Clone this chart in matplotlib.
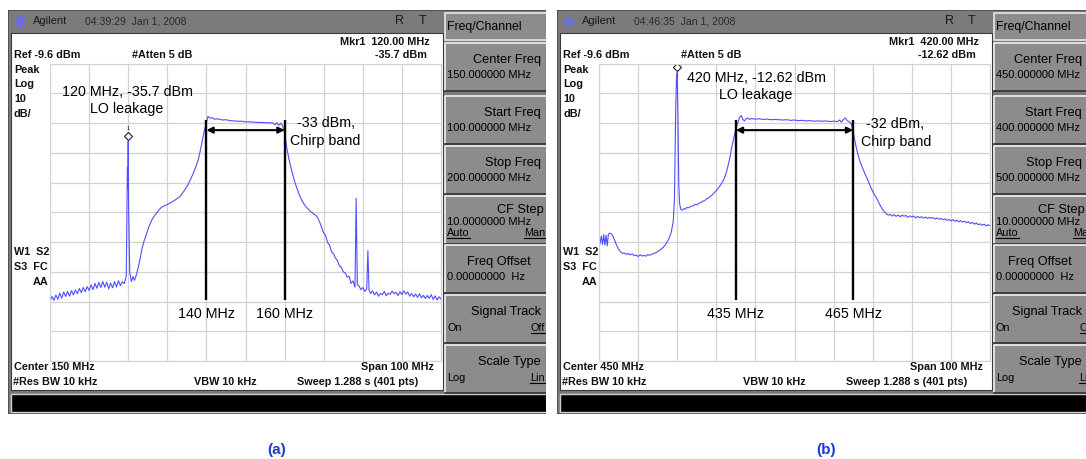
import numpy as np
import matplotlib
matplotlib.use('Agg')
import matplotlib.pyplot as plt
from matplotlib.patches import Rectangle
from matplotlib.transforms import ScaledTranslation

plt.rcParams['font.family'] = ['Liberation Sans', 'DejaVu Sans']

W, H = 1086, 459

ref_level = -9.6          # dBm, top line
db_div = 10

span_a = (100, 200)
span_b = (400, 500)

freq_a = [100.0, 100.5, 101.0, 101.5, 102.0, 102.5, 103.0, 103.5, 104.0, 104.5,
          105.0, 105.5, 106.0, 106.5, 107.0, 107.5, 108.0, 108.5, 109.0, 109.5,
          110.0, 110.5, 111.0, 111.5, 112.0, 112.5, 113.0, 113.5, 114.0, 114.5,
          115.0, 115.5, 116.0, 116.5, 117.0, 117.5, 118.0, 118.5, 119.0, 119.5,
          119.7, 119.8, 119.9, 120.0, 120.1, 120.4, 120.8, 121.2, 121.6, 122.0,
          122.5, 123.0, 123.5, 124.0, 124.5, 125.0, 125.5, 126.0, 126.5, 127.0,
          127.5, 128.0, 128.5, 129.0, 129.5, 130.0, 130.5, 131.0, 131.5, 132.0,
          132.5, 133.0, 133.5, 134.0, 134.5, 135.0, 135.5, 136.0, 136.5, 137.0,
          137.5, 138.0, 138.5, 139.0, 139.5, 140.0, 140.4, 141.0, 141.5, 142.0,
          143.0, 144.0, 145.0, 146.0, 147.0, 148.0, 149.0, 150.0, 151.0, 152.0,
          153.0, 154.0, 155.0, 156.0, 157.0, 157.5, 158.0, 158.5, 159.0, 159.5,
          160.0, 160.5, 161.0, 161.5, 162.0, 162.5, 163.0, 163.5, 164.0, 164.5,
          165.0, 165.5, 166.0, 166.5, 167.0, 167.5, 168.0, 168.5, 169.0, 169.5,
          170.0, 170.5, 171.0, 171.5, 172.0, 172.5, 173.0, 173.5, 174.0, 174.5,
          175.0, 175.5, 176.0, 176.5, 177.0, 177.5, 178.0, 178.3, 178.6, 179.0,
          179.5, 180.0, 180.5, 181.0, 181.3, 181.6, 182.0, 182.5, 183.0, 183.5,
          184.0, 184.5, 185.0, 185.5, 186.0, 186.5, 187.0, 187.5, 188.0, 188.5,
          189.0, 189.5, 190.0, 190.5, 191.0, 191.5, 192.0, 192.5, 193.0, 193.5,
          194.0, 194.5, 195.0, 195.5, 196.0, 196.5, 197.0, 197.5, 198.0, 198.5,
          199.0, 199.5, 200.0]
dbm_a = [-89.6, -87.9, -89.2, -87.4, -88.9, -86.8, -88.5, -86.4, -87.9, -86.2,
         -87.8, -85.9, -87.4, -85.7, -87.0, -85.2, -86.6, -84.9, -86.3, -84.6,
         -85.9, -84.0, -85.6, -83.5, -85.2, -83.2, -84.9, -82.9, -84.8, -83.1,
         -85.3, -83.4, -85.0, -82.9, -84.7, -82.6, -84.3, -83.0, -83.6, -81.0,
         -56.0, -44.5, -52.0, -35.7, -58.0, -79.8, -82.9, -81.2, -82.5, -81.0,
         -78.5, -75.5, -72.0, -69.5, -67.5, -65.6, -63.8, -62.3, -61.2, -60.3,
         -59.4, -58.6, -58.0, -57.6, -57.3, -57.0, -56.6, -56.3, -55.9, -55.5,
         -55.0, -54.6, -53.9, -53.0, -52.0, -51.0, -49.8, -48.4, -46.9, -45.3,
         -43.6, -41.5, -38.5, -35.2, -32.0, -29.5, -27.4, -28.0, -27.8, -28.3,
         -28.2, -28.6, -28.5, -28.8, -28.9, -29.0, -29.0, -29.2, -29.2, -29.3,
         -29.4, -29.4, -29.5, -29.5, -29.6, -30.2, -29.5, -30.4, -29.7, -30.5,
         -33.0, -37.5, -41.0, -44.0, -46.5, -49.0, -51.0, -52.8, -54.5, -55.8,
         -56.9, -57.8, -58.5, -59.2, -59.7, -60.3, -60.6, -61.5, -63.0, -64.8,
         -66.6, -67.5, -69.8, -70.6, -72.9, -73.5, -75.0, -75.8, -77.6, -78.1,
         -79.6, -80.0, -81.4, -81.1, -83.5, -82.7, -84.8, -54.9, -84.0, -84.3,
         -85.6, -84.9, -86.2, -85.4, -72.5, -85.8, -86.9, -86.0, -87.4, -86.4,
         -87.8, -86.9, -87.3, -86.2, -87.7, -86.8, -87.2, -86.1, -87.0, -86.5,
         -87.6, -86.3, -87.3, -86.0, -87.1, -86.4, -87.8, -86.9, -88.0, -87.1,
         -88.2, -87.0, -88.4, -87.5, -88.6, -87.6, -88.5, -87.3, -88.9, -87.7,
         -89.1, -88.0, -88.8]

freq_b = [400.0, 400.3, 400.6, 400.9, 401.2, 401.5, 401.8, 402.1, 402.4, 402.8,
          403.2, 403.6, 404.0, 404.5, 405.0, 405.5, 406.0, 406.5, 407.0, 407.5,
          408.0, 408.5, 409.0, 409.5, 410.0, 410.5, 411.0, 411.5, 412.0, 412.5,
          413.0, 413.5, 414.0, 414.5, 415.0, 415.5, 416.0, 416.5, 417.0, 417.5,
          418.0, 418.5, 419.0, 419.3, 419.6, 419.8, 420.0, 420.2, 420.4, 420.6,
          420.9, 421.3, 421.7, 422.0, 422.5, 423.0, 423.5, 424.0, 424.5, 425.0,
          425.5, 426.0, 426.5, 427.0, 427.5, 428.0, 428.5, 429.0, 429.5, 430.0,
          430.5, 431.0, 431.5, 432.0, 432.5, 433.0, 433.5, 434.0, 434.5, 435.0,
          435.5, 436.0, 436.4, 436.8, 437.2, 437.6, 438.0, 438.5, 439.0, 440.0,
          441.0, 442.0, 443.0, 444.0, 445.0, 446.0, 447.0, 448.0, 449.0, 450.0,
          451.0, 452.0, 453.0, 454.0, 455.0, 456.0, 457.0, 458.0, 459.0, 460.0,
          461.0, 461.5, 462.0, 462.5, 463.0, 463.5, 464.0, 464.5, 465.0, 465.5,
          466.0, 466.5, 467.0, 467.5, 468.0, 468.5, 469.0, 469.5, 470.0, 470.5,
          471.0, 471.5, 472.0, 472.5, 473.0, 473.5, 474.0, 474.5, 475.0, 475.5,
          476.0, 476.5, 477.0, 477.5, 478.0, 478.5, 479.0, 479.5, 480.0, 480.5,
          481.0, 481.5, 482.0, 482.5, 483.0, 483.5, 484.0, 484.5, 485.0, 485.5,
          486.0, 486.5, 487.0, 487.5, 488.0, 488.5, 489.0, 489.5, 490.0, 490.5,
          491.0, 491.5, 492.0, 492.5, 493.0, 493.5, 494.0, 494.5, 495.0, 495.5,
          496.0, 496.5, 497.0, 497.5, 498.0, 498.5, 499.0, 499.5, 500.0]
dbm_b = [-71.3, -69.8, -67.6, -70.4, -67.1, -70.6, -67.3, -70.9, -67.0, -66.6,
         -66.9, -67.8, -69.0, -70.7, -72.0, -72.9, -73.4, -73.3, -73.7, -73.5,
         -73.9, -73.6, -74.2, -74.0, -74.5, -73.9, -74.3, -74.1, -74.4, -73.8,
         -74.1, -73.7, -73.5, -73.2, -72.8, -72.4, -71.9, -71.3, -70.5, -69.4,
         -68.1, -66.2, -62.5, -55.0, -26.0, -15.0, -12.62, -28.0, -50.0, -56.5,
         -58.6, -58.9, -58.4, -58.6, -58.0, -58.1, -57.6, -57.5, -57.0, -57.1,
         -56.6, -56.4, -55.9, -55.7, -55.1, -54.8, -54.2, -53.7, -53.0, -52.3,
         -51.5, -50.6, -49.6, -48.3, -46.5, -44.0, -41.0, -37.5, -34.5, -31.5,
         -29.5, -27.6, -27.1, -28.4, -28.9, -28.2, -27.9, -28.4, -28.1, -28.3,
         -28.2, -28.4, -28.3, -28.5, -28.4, -28.5, -28.6, -28.5, -28.7, -28.6,
         -28.8, -28.7, -28.9, -28.8, -29.0, -28.9, -29.0, -28.9, -29.1, -29.0,
         -29.1, -28.6, -29.3, -28.4, -27.9, -28.8, -29.2, -29.8, -32.5, -36.0,
         -39.0, -41.5, -43.4, -45.0, -46.6, -48.0, -49.6, -51.2, -52.6, -53.8,
         -54.9, -56.2, -57.5, -58.6, -59.5, -60.1, -60.6, -60.3, -60.9, -60.4,
         -61.0, -60.5, -61.1, -60.6, -60.9, -60.7, -61.3, -60.8, -61.2, -60.9,
         -61.5, -61.0, -61.4, -61.1, -61.6, -61.2, -61.7, -61.3, -61.6, -61.4,
         -61.9, -61.5, -62.0, -61.7, -62.1, -61.8, -62.3, -62.0, -62.5, -62.1,
         -62.6, -62.3, -62.8, -62.4, -62.9, -62.6, -63.1, -62.8, -63.4, -63.0,
         -63.6, -63.2, -63.8, -63.5, -64.0, -63.6, -64.2, -63.8, -64.1]

mkr_a = (120.0, -35.7)
mkr_b = (420.0, -12.62)
band_a = (140, 160)
band_b = (435, 465)
chirp_a = -33
chirp_b = -32

key_titles = ['Center Freq', 'Start Freq', 'Stop Freq', 'CF Step',
              'Freq Offset', 'Signal Track', 'Scale Type']
key_vals_a = ['150.000000 MHz', '100.000000 MHz', '200.000000 MHz',
              '10.0000000 MHz', '0.00000000  Hz', '', '']
key_vals_b = ['450.000000 MHz', '400.000000 MHz', '500.000000 MHz',
              '10.0000000 MHz', '0.00000000  Hz', '', '']

fig = plt.figure(figsize=(W / 100, H / 100), dpi=100)
fig.patch.set_facecolor('white')

underlined = []
FRAME = '#7b7b7b'
BTN = '#8c8c8c'
TXT = '#111111'


def txt(ax, x, y, s, **kw):
    kw.setdefault('va', 'center')
    kw.setdefault('color', TXT)
    return ax.text(x, y, s, clip_on=True, **kw)


def draw_screen(x0, x1, time_s, mkr_s, mkr_v, center_s, key_vals, key_right):
    ox = x0 - 8
    bg = fig.add_axes([x0 / W, 1 - 414 / H, (x1 - x0) / W, (414 - 10) / H])
    bg.set_xlim(x0, x1)
    bg.set_ylim(414, 10)
    bg.axis('off')
    # frame + header
    bg.add_patch(Rectangle((x0, 10), x1 - x0 + 5, 404, fc=FRAME, ec='#4a4a4a', lw=1.2))
    bg.plot([ox + 20], [21], marker=(8, 2, 0), ms=9, color='#6a6aff', mew=0.9)
    txt(bg, ox + 33, 21, 'Agilent', fontsize=8, color='#1a1a1a')
    txt(bg, ox + 85, 21, time_s, fontsize=7.6, color='#2a2a2a')
    txt(bg, ox + 400, 21, 'R', fontsize=9, ha='center', color='#1a1a1a')
    txt(bg, ox + 423, 21, 'T', fontsize=9, ha='center', color='#1a1a1a')
    # white screen area
    bg.add_patch(Rectangle((ox + 11, 33), 432, 357, fc='white', ec='#3a3a3a', lw=0.8))
    # black message bar
    bg.add_patch(Rectangle((ox + 11, 394), x1 - ox, 18, fc='black', ec='#d0d0d0', lw=1))
    # screen annotations (bold instrument font)
    b = dict(fontsize=7.8, fontweight='bold')
    txt(bg, ox + 430, 42, mkr_s, ha='right', **b)
    txt(bg, ox + 427, 55, mkr_v, ha='right', **b)
    txt(bg, ox + 14, 55, 'Ref -9.6 dBm', **b)
    txt(bg, ox + 132, 55, '#Atten 5 dB', **b)
    for s, y in zip(['Peak', 'Log', '10', 'dB/'], [70, 84, 99, 114]):
        txt(bg, ox + 14, y, s, **b)
    txt(bg, ox + 14, 252, 'W1  S2', **b)
    txt(bg, ox + 14, 267, 'S3  FC', **b)
    txt(bg, ox + 48, 282, 'AA', ha='right', **b)
    txt(bg, ox + 14, 367, center_s, **b)
    txt(bg, ox + 434, 367, 'Span 100 MHz', ha='right', **b)
    txt(bg, ox + 13, 382, '#Res BW 10 kHz', **b)
    txt(bg, ox + 225, 382, 'VBW 10 kHz', ha='center', **b)
    txt(bg, ox + 297, 382, 'Sweep 1.288 s (401 pts)', **b)
    # softkey column
    kx = ox + 445
    bg.add_patch(Rectangle((kx, 13), 120, 27, fc=BTN, ec='#e8e8e8', lw=1.2))
    txt(bg, kx + 2, 27, 'Freq/Channel', fontsize=8.8, color='black')
    tops = [43, 96, 146, 196, 245, 295, 345]
    for i, (top, title, val) in enumerate(zip(tops, key_titles, key_vals)):
        bg.add_patch(Rectangle((kx, top), 120, 47, fc=BTN, ec='none'))
        bg.plot([kx, kx, kx + 120], [top + 47, top, top], color='#f2f2f2', lw=1.2)
        bg.plot([kx, kx + 120], [top + 47.5, top + 47.5], color='#333333', lw=1.2)
        fx = key_right - (10 if title == 'Freq Offset' else 0)
        if title == 'CF Step':
            txt(bg, ox + fx + 3, top + 14, title, fontsize=9.2, ha='right', color='black')
            txt(bg, kx + 2, top + 26, val, fontsize=8, color='black')
        else:
            txt(bg, ox + fx, top + 17, title, fontsize=9.2, ha='right', color='black')
            txt(bg, kx + 2, top + 32, val, fontsize=8, color='black')
    # on/off style options
    opts = [(3, 'Auto', 'Man', True, True, 37), (5, 'On', 'Off', False, True, 33),
            (6, 'Log', 'Lin', False, True, 33)]
    for i, left, right, ul_l, ul_r, dy in opts:
        y = tops[i] + dy
        t1 = txt(bg, kx + 2, y, left, fontsize=7.8, color='black')
        t2 = txt(bg, ox + 545, y, right, fontsize=7.8, ha='right', color='black')
        if ul_l:
            underlined.append((bg, t1))
        if ul_r:
            underlined.append((bg, t2))
    return bg


def draw_trace(ox, span, freqs, dbm, mkr, band, chirp, lo_xy, chirp_xy, tiny_one):
    ax = fig.add_axes([(ox + 50) / W, 1 - 361 / H, 391 / W, 297.5 / H], zorder=3)
    ax.set_xlim(*span)
    ax.set_ylim(ref_level - 10 * db_div, ref_level)
    ax.set_xticks(np.arange(span[0], span[1] + 1, 10))
    ax.set_yticks(ref_level - db_div * np.arange(11))
    ax.grid(True, color='#d2d2d2', lw=0.9)
    ax.tick_params(length=0, labelbottom=False, labelleft=False)
    for sp in ax.spines.values():
        sp.set_color('#d2d2d2')
    ax.plot(freqs, dbm, color='#4f4fff', lw=0.8)
    # marker diamond just above the peak
    shift = ax.transData + ScaledTranslation(0, 0.055, fig.dpi_scale_trans)
    ax.plot([mkr[0]], [mkr[1]], marker='D', ms=4, mfc='white', mec='#222222',
            mew=0.8, transform=shift)
    if tiny_one:
        ax.text(mkr[0], mkr[1], '1', fontsize=4, ha='center', va='bottom',
                transform=ax.transData + ScaledTranslation(0, 0.1, fig.dpi_scale_trans))
    # band edges and arrow
    ax.vlines(band, -89.2, -28.6, color='black', lw=1.7)
    ax.annotate('', xy=(band[1], -32.0), xytext=(band[0], -32.0),
                arrowprops=dict(arrowstyle='<|-|>', color='black', lw=1.5,
                                shrinkA=0, shrinkB=0, mutation_scale=9))
    for f in band:
        ax.text(f, -93.9, f'{f} MHz', fontsize=10.3, ha='center', va='center')
    fs = 10.3
    ax.text(lo_xy[0], lo_xy[1], f'{mkr[0]:g} MHz, {mkr[1]} dBm', fontsize=fs,
            ha='center', va='center')
    ax.text(lo_xy[2], lo_xy[3], 'LO leakage', fontsize=fs, ha='center', va='center')
    ax.text(chirp_xy[0], chirp_xy[1], f'{chirp} dBm,', fontsize=fs, va='center')
    ax.text(chirp_xy[2], chirp_xy[3], 'Chirp band', fontsize=fs, va='center')
    return ax


draw_screen(8, 546, '04:39:29  Jan 1, 2008', 'Mkr1  120.00 MHz', '-35.7 dBm',
            'Center 150 MHz', key_vals_a, 541)
draw_screen(557, 1086, '04:46:35  Jan 1, 2008', 'Mkr1  420.00 MHz', '-12.62 dBm',
            'Center 450 MHz', key_vals_b, 533)

draw_trace(0, span_a, freq_a, dbm_a, mkr_a, band_a, chirp_a,
           (119.8, -19.3, 119.7, -25.0), (163.2, -29.7, 161.4, -35.8), True)
draw_trace(549, span_b, freq_b, dbm_b, mkr_b, band_b, chirp_b,
           (440.3, -14.5, 440.1, -20.3), (468.4, -30.0, 467.1, -36.1), False)

# underline the selected softkey options
fig.canvas.draw()
rend = fig.canvas.get_renderer()
for ax, t in underlined:
    bb = t.get_window_extent(rend)
    inv = ax.transData.inverted()
    (xa, ya), (xb, yb) = inv.transform([(bb.x0, bb.y0), (bb.x1, bb.y0)])
    ax.plot([xa, xb], [ya - 0.5, yb - 0.5], color='black', lw=0.8)

fig.text(277 / W, 1 - 450 / H, '(a)', color='#1f3ccc', fontsize=11,
         fontweight='bold', ha='center', va='center')
fig.text(826 / W, 1 - 450 / H, '(b)', color='#1f3ccc', fontsize=11,
         fontweight='bold', ha='center', va='center')

fig.savefig('out.png', dpi=100)
